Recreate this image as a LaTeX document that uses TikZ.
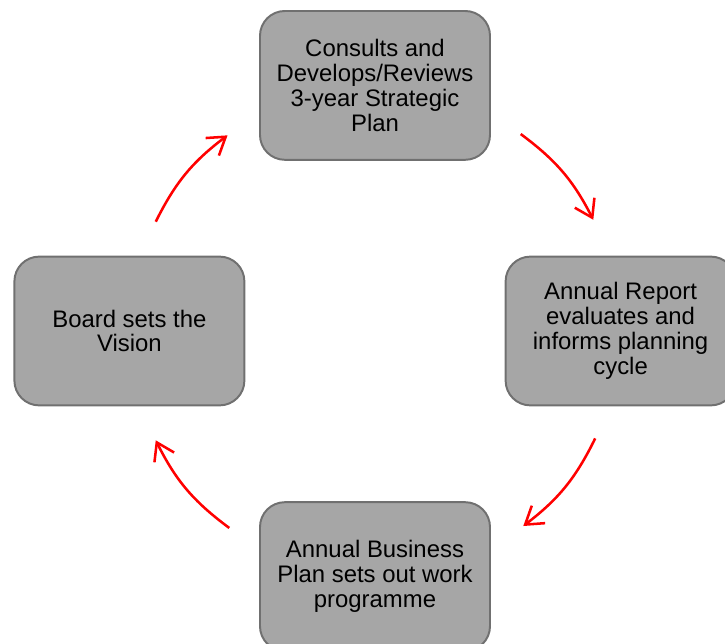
\documentclass[tikz,border=0pt]{standalone}
\usepackage{fontspec}
\setmainfont{Liberation Sans}
\usetikzlibrary{arrows.meta}
\definecolor{stagefill}{HTML}{A6A6A6}
\definecolor{stageline}{HTML}{707070}
\tikzset{
  stage/.style={draw=stageline, fill=stagefill, line width=1.4pt,
    rounded corners=0.62cm, minimum width=5.75cm, minimum height=3.72cm,
    inner sep=0pt, align=center, font=\fontsize{17}{17.7}\selectfont},
  cyc/.style={red, line width=1.8pt,
    -{Straight Barb[length=0.42cm,width=0.55cm]}}
}
\begin{document}
\begin{tikzpicture}
      \useasboundingbox (-9.375,-7.8) rectangle (8.75,8.275);
      \draw
        (90:6.14) node[stage] (plan){Consults and\\Develops/Reviews\\3-year Strategic\\Plan}
        (0:6.14) node[stage] (report){Annual Report\\evaluates and\\informs planning\\cycle}
        (270:6.14) node[stage] (business){Annual Business\\Plan sets out work\\programme}
        (180:6.14) node[stage] (vision){Board sets the\\Vision};
      % arrow ends on the circle through the box centres
      \coordinate (p1) at (53.5:6.125);
      \coordinate (r0) at (27:6.125);
      \coordinate (r1) at (-26:6.125);
      \coordinate (b0) at (-52.75:6.125);
      \coordinate (b1) at (-126.5:6.125);
      \coordinate (v0) at (-153.5:6.125);
      \coordinate (v1) at (153.5:6.125);
      \coordinate (p0) at (127:6.125);
      \begin{scope}[cyc]
        \draw (p1) to[bend left=13.25] (r0);
        \draw (r1) to[bend left=13.25] (b0);
        \draw (b1) to[bend left=13.5] (v0);
        \draw (v1) to[bend left=13.25] (p0);
      \end{scope}
    \end{tikzpicture}
\end{document}
